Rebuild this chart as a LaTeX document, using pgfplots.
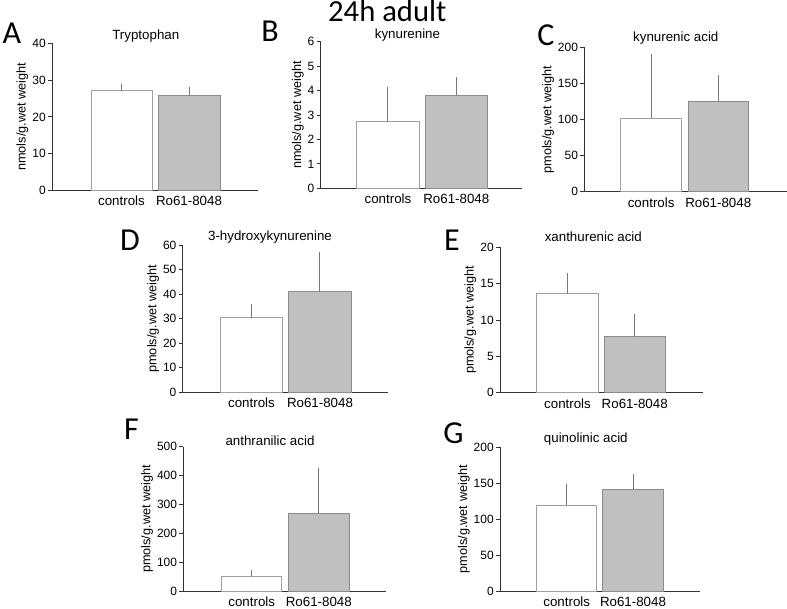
\documentclass[border=0pt]{standalone}
\usepackage{fontspec}
\setmainfont{Liberation Sans}
\newfontfamily\calib{Carlito}
\usepackage{pgfplots}
\pgfplotsset{compat=1.18}

\definecolor{ctrledge}{RGB}{160,160,160}
\definecolor{rofill}{RGB}{192,192,192}
\definecolor{roedge}{RGB}{140,140,140}
\definecolor{errcol}{RGB}{120,120,120}
\definecolor{axiscol}{RGB}{50,50,50}

% 1 px of the reference = 0.75pt
\pgfplotsset{
  kyn/.style={
    scale only axis,
    anchor=south west,
    axis x line=bottom, axis y line=left,
    axis line style={-, axiscol, line width=0.75pt},
    enlargelimits=false,
    xmin=0, ymin=0,
    ybar, bar shift=0pt,
    xticklabels={controls, Ro61-8048},
    xtick style={draw=none},
    ytick style={axiscol, line width=0.75pt},
    tick align=outside, major tick length=3pt,
    xticklabel style={font=\fontsize{10}{12}\selectfont, anchor=base, yshift=-8.6pt},
    yticklabel style={font=\fontsize{9}{10}\selectfont, inner sep=1.5pt},
    ylabel style={font=\fontsize{9.5}{11}\selectfont, yshift=-2pt},
    /pgf/number format/assume math mode=true,
    error bars/y dir=plus, error bars/y explicit,
    error bars/error bar style={errcol, line width=0.75pt},
    error bars/error mark options={errcol, line width=0.75pt, mark size=1.6pt},
  },
  ctrl/.style={fill=white, draw=ctrledge, line width=0.75pt},
  ro/.style={fill=rofill, draw=roedge, line width=0.75pt},
}

\begin{document}
\begin{tikzpicture}

% A Tryptophan
\begin{axis}[kyn, at={(39pt,312pt)}, width=154.5pt, height=110.25pt,
  xmax=206, ymax=40, ytick={0,10,...,40}, xtick={69.5,137},
  ylabel={nmols/g.wet weight}]
\addplot[ctrl, bar width=45.75pt] coordinates {(69.5,27.1) +- (0,1.4)};
\addplot[ro, bar width=46.5pt] coordinates {(137,25.9) +- (0,1.6)};
\end{axis}

% B kynurenine
\begin{axis}[kyn, at={(240.5pt,313.5pt)}, width=151pt, height=110pt,
  xmax=201.3, ymax=6, ytick={0,1,...,6}, xtick={67.3,135.6},
  ylabel={nmols/g.wet weight}]
\addplot[ctrl, bar width=47pt] coordinates {(67.3,2.73) +- (0,1.32)};
\addplot[ro, bar width=46.5pt] coordinates {(135.6,3.82) +- (0,0.64)};
\end{axis}

% C kynurenic acid
\begin{axis}[kyn, at={(438.2pt,311pt)}, width=152pt, height=108.2pt,
  xmax=202.7, ymax=200, ytick={0,50,...,200}, xtick={66.9,134},
  ylabel={pmols/g.wet weight}]
\addplot[ctrl, bar width=45.75pt] coordinates {(66.9,101.6) +- (0,86.3)};
\addplot[ro, bar width=45pt] coordinates {(134,124.7) +- (0,34.1)};
\end{axis}

% D 3-hydroxykynurenine
\begin{axis}[kyn, at={(137pt,160.5pt)}, width=154pt, height=110.5pt,
  xmax=205.3, ymax=60, ytick={0,10,...,60}, xtick={68.8,137.3},
  ylabel={pmols/g.wet weight}]
\addplot[ctrl, bar width=46.5pt] coordinates {(68.8,30.4) +- (0,4.8)};
\addplot[ro, bar width=47.25pt] coordinates {(137.3,41.0) +- (0,15.5)};
\end{axis}

% E xanthurenic acid
\begin{axis}[kyn, at={(375pt,160.3pt)}, width=152.5pt, height=109pt,
  xmax=203.3, ymax=20, ytick={0,5,...,20}, xtick={67.5,134.7},
  ylabel={pmols/g.wet weight}]
\addplot[ctrl, bar width=46.2pt] coordinates {(67.5,13.6) +- (0,2.6)};
\addplot[ro, bar width=46pt] coordinates {(134.7,7.7) +- (0,2.9)};
\end{axis}

% F anthranilic acid
\begin{axis}[kyn, at={(137.5pt,11.5pt)}, width=152pt, height=108.2pt,
  xmax=202.7, ymax=500, ytick={0,100,...,500}, xtick={68.4,135.5},
  ylabel={pmols/g.wet weight}]
\addplot[ctrl, bar width=45pt] coordinates {(68.4,50) +- (0,17)};
\addplot[ro, bar width=45.75pt] coordinates {(135.5,268) +- (0,150)};
\end{axis}

% G quinolinic acid
\begin{axis}[kyn, at={(375pt,11.5pt)}, width=150pt, height=107.8pt,
  xmax=200, ymax=200, ytick={0,50,...,200}, xtick={66.7,133},
  ylabel={pmols/g.wet weight}]
\addplot[ctrl, bar width=45pt] coordinates {(66.7,119.3) +- (0,26.8)};
\addplot[ro, bar width=45.5pt] coordinates {(133,141.5) +- (0,18.5)};
\end{axis}

% titles
\begin{scope}[every node/.style={anchor=base, inner sep=0pt, font=\fontsize{10}{12}\selectfont}]
\node at (109.35pt,425.25pt) {Tryptophan};
\node at (305.6pt,426pt) {kynurenine};
\node at (506.85pt,424pt) {kynurenic acid};
\node at (202.5pt,274.7pt) {3-hydroxykynurenine};
\node at (445pt,273.5pt) {xanthurenic acid};
\node at (202.5pt,120.5pt) {anthranilic acid};
\node at (439.35pt,123pt) {quinolinic acid};
\end{scope}

% panel letters
\begin{scope}[every node/.style={anchor=base, inner sep=0pt, font=\calib\fontsize{24}{28}\selectfont}]
\node at (9pt,422.25pt) {A};
\node at (202.5pt,423.75pt) {B};
\node at (409.5pt,420.75pt) {C};
\node at (97.5pt,267pt) {D};
\node at (339pt,267pt) {E};
\node at (98.6pt,125.25pt) {F};
\node at (340.1pt,122.25pt) {G};
\end{scope}

\node[anchor=base, inner sep=0pt, font=\calib\fontsize{23}{27}\selectfont] at (290.5pt,438.75pt) {24h adult};

\pgfresetboundingbox
\path[use as bounding box] (0,-1.2pt) rectangle (590.25pt,454.8pt);
\end{tikzpicture}
\end{document}
